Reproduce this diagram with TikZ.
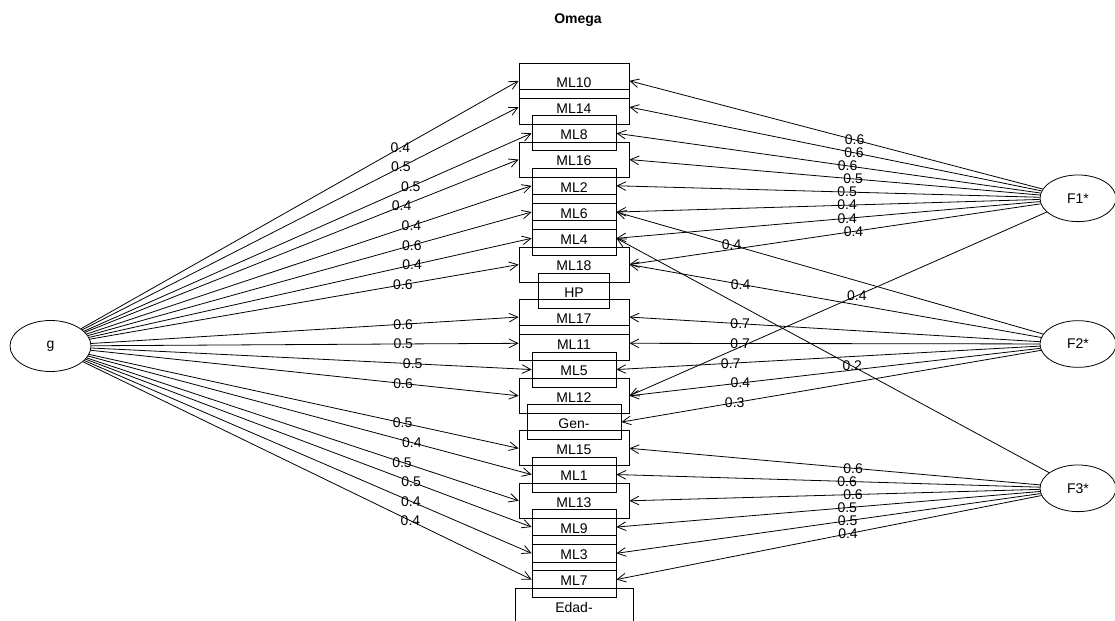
\documentclass[tikz,border=0pt]{standalone}
\usepackage{fontspec}
\setmainfont{Liberation Sans}
\usetikzlibrary{shapes.geometric,arrows.meta}
\begin{document}
\begin{tikzpicture}[x=0.75pt,y=-0.75pt,
  every node/.style={font=\fontsize{10.5pt}{12pt}\selectfont},
  obs/.style={draw, rectangle, inner sep=0pt, minimum height=26.25pt, line width=0.6pt, text height=9.3pt, text depth=0pt},
  wide/.style={obs, minimum width=82.5pt},
  narrow/.style={obs, minimum width=63pt},
  lat/.style={draw, ellipse, inner sep=0pt, line width=0.6pt},
  glat/.style={lat, minimum width=60.75pt, minimum height=38.25pt},
  flat/.style={lat, minimum width=57pt, minimum height=35pt},
  load/.style={-{Straight Barb[length=6.5pt,width=6.5pt]}, line width=0.6pt},
  lbl/.style={inner sep=0pt},
  gl/.style={lbl, pos=0.73},
  fl/.style={lbl, pos=0.455}]
\fill[white] (0,0) rectangle (1115,621);
\useasboundingbox (0,0) rectangle (1115,621);

\node[font=\bfseries\fontsize{10.5pt}{12pt}\selectfont] (title) at (578,20) {Omega};

% observed variables
\node[wide]   (ML10) at (574,80.8)   {ML10};
\node[wide]   (ML14) at (574,107.05) {ML14};
\node[narrow] (ML8)  at (574,133.3)  {ML8};
\node[wide]   (ML16) at (574,159.55) {ML16};
\node[narrow] (ML2)  at (574,185.8)  {ML2};
\node[narrow] (ML6)  at (574,212.05) {ML6};
\node[narrow] (ML4)  at (574,238.3)  {ML4};
\node[wide]   (ML18) at (574,264.55) {ML18};
\node[obs, minimum width=53.25pt] (HP) at (574,290.8) {HP};
\node[wide]   (ML17) at (574,317.05) {ML17};
\node[wide]   (ML11) at (574,343.3)  {ML11};
\node[narrow] (ML5)  at (574,369.55) {ML5};
\node[wide]   (ML12) at (574,395.8)  {ML12};
\node[obs, minimum width=70.5pt] (Gen) at (574,422.05) {Gen-};
\node[wide]   (ML15) at (574,448.3)  {ML15};
\node[narrow] (ML1)  at (574,474.55) {ML1};
\node[wide]   (ML13) at (574,500.8)  {ML13};
\node[narrow] (ML9)  at (574,527.05) {ML9};
\node[narrow] (ML3)  at (574,553.3)  {ML3};
\node[narrow] (ML7)  at (574,579.55) {ML7};
\node[obs, minimum width=88.5pt] (Edad) at (574,605.8) {Edad-};

% latent variables
\node[glat] (g)  at (50.5,346)   {g};
\node[flat] (F1) at (1078,198.3) {F1*};
\node[flat] (F2) at (1078,344)   {F2*};
\node[flat] (F3) at (1078,488.3) {F3*};

% general factor
\draw[load] (g) -- node[gl]{0.4} (ML10.west);
\draw[load] (g) -- node[gl]{0.5} (ML14.west);
\draw[load] (g) -- node[gl]{0.5} (ML8.west);
\draw[load] (g) -- node[gl]{0.4} (ML16.west);
\draw[load] (g) -- node[gl]{0.4} (ML2.west);
\draw[load] (g) -- node[gl]{0.6} (ML6.west);
\draw[load] (g) -- node[gl]{0.4} (ML4.west);
\draw[load] (g) -- node[gl]{0.6} (ML18.west);
\draw[load] (g) -- node[gl]{0.6} (ML17.west);
\draw[load] (g) -- node[gl]{0.5} (ML11.west);
\draw[load] (g) -- node[gl]{0.5} (ML5.west);
\draw[load] (g) -- node[gl]{0.6} (ML12.west);
\draw[load] (g) -- node[gl]{0.5} (ML15.west);
\draw[load] (g) -- node[gl]{0.4} (ML1.west);
\draw[load] (g) -- node[gl]{0.5} (ML13.west);
\draw[load] (g) -- node[gl]{0.5} (ML9.west);
\draw[load] (g) -- node[gl]{0.4} (ML3.west);
\draw[load] (g) -- node[gl]{0.4} (ML7.west);

% F1*
\draw[load] (F1) -- node[fl]{0.6} (ML10.east);
\draw[load] (F1) -- node[fl]{0.6} (ML14.east);
\draw[load] (F1) -- node[fl]{0.6} (ML8.east);
\draw[load] (F1) -- node[fl]{0.5} (ML16.east);
\draw[load] (F1) -- node[fl]{0.5} (ML2.east);
\draw[load] (F1) -- node[fl]{0.4} (ML6.east);
\draw[load] (F1) -- node[fl]{0.4} (ML4.east);
\draw[load] (F1) -- node[fl]{0.4} (ML18.east);
\draw[load] (F1) -- node[fl]{0.4} (ML12.east);

% F2*
\draw[load] (F2) -- node[gl]{0.7} (ML17.east);
\draw[load] (F2) -- node[gl]{0.7} (ML11.east);
\draw[load] (F2) -- node[gl]{0.7} (ML5.east);
\draw[load] (F2) -- node[gl]{0.4} (ML12.east);
\draw[load] (F2) -- node[gl]{0.3} (Gen.east);
\draw[load] (F2) -- node[gl]{0.4} (ML6.east);
\draw[load] (F2) -- node[gl]{0.4} (ML18.east);

% F3*
\draw[load] (F3) -- node[fl]{0.6} (ML15.east);
\draw[load] (F3) -- node[fl]{0.6} (ML1.east);
\draw[load] (F3) -- node[fl]{0.6} (ML13.east);
\draw[load] (F3) -- node[fl]{0.5} (ML9.east);
\draw[load] (F3) -- node[fl]{0.5} (ML3.east);
\draw[load] (F3) -- node[fl]{0.4} (ML7.east);
\draw[load] (F3) -- node[fl]{0.2} (ML4.east);
\end{tikzpicture}
\end{document}
